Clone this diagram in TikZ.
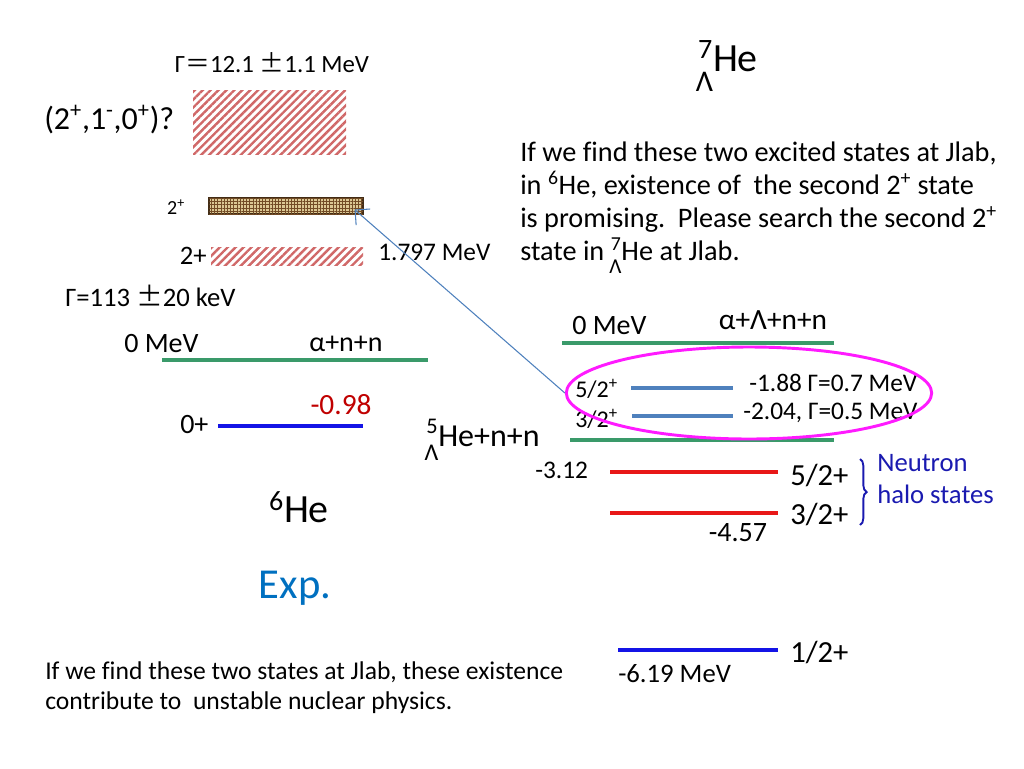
\documentclass[tikz,border=0pt]{standalone}
\usepackage{amsmath}
\usepackage{graphicx}
\usepackage{fontspec}
\setmainfont{Carlito}[Ligatures=NoCommon]
\newfontfamily\cjk{Noto Sans CJK SC}
\usetikzlibrary{arrows.meta,positioning,shapes.geometric,patterns,patterns.meta,decorations.pathreplacing}

% hypernucleus symbol: mass number on top, Lambda below
\newcommand\hyp[3][0.45em]{{\setbox0\hbox{\textsuperscript{#2}}\rlap{\hbox to\wd0{\hss\raisebox{-#1}{\scalebox{0.75}{Λ}}}}\box0}#3}
\newcommand\fsz[1]{\fontsize{#1}{1.2\dimexpr#1pt\relax}\selectfont}

\begin{document}
\begin{tikzpicture}[x=0.75pt,y=-0.75pt,
  lbl/.style={inner sep=0pt},
  lvl/.style={line width=2.6pt},
  hatchbox/.style={inner sep=0pt, pattern={Lines[angle=45,distance=4.2pt,line width=1.8pt]}, pattern color=hatch},
  texbox/.style={inner sep=0pt, draw=brown!35!black, line width=0.8pt, fill=boxtan, postaction={pattern={Hatch[distance=2.4pt,line width=0.45pt]}, pattern color=brown!60!black}}]
\definecolor{lvgreen}{HTML}{3A9A6A}
\definecolor{lvblue}{HTML}{1414E6}
\definecolor{lvsteel}{HTML}{4F81BD}
\definecolor{lvred}{HTML}{E81818}
\definecolor{hatch}{HTML}{D06868}
\definecolor{boxtan}{HTML}{DCC894}
\definecolor{selmag}{HTML}{FF1AFF}
\definecolor{expblue}{HTML}{0070C0}
\definecolor{haloblue}{HTML}{1A1AB0}
\definecolor{darkred}{HTML}{C00000}
\useasboundingbox (0,0) rectangle (1024,768);

% 6He side
\node[lbl, font=\fsz{18.6}] (gbig) at (272,63) {Γ{\cjk ＝}12.1 {\cjk ±}1.1 MeV};
\node[hatchbox, minimum width=114.75pt, minimum height=48pt] (broad) at (269.5,122) {};
\node[lbl, font=\fsz{24}, anchor=west] (jpi) at (44,120) {(2\textsuperscript{+},1\textsuperscript{-},0\textsuperscript{+})?};
\node[texbox, minimum width=115.5pt, minimum height=12pt] (tex) at (286,206) {};
\node[lbl, font=\fsz{15}] (tlab) at (176,207) {2\textsuperscript{+}};
\node[hatchbox, minimum width=114pt, minimum height=13.5pt] (first) at (287,256) {};
\node[lbl, font=\fsz{20}, anchor=east] (flab) at (207,256) {2+};
\node[lbl, font=\fsz{19}, anchor=west] (fen) at (378,252) {1.797 MeV};
\node[lbl, font=\fsz{20}, anchor=west] (gsmall) at (65,296) {Γ=113 {\cjk ±}20 keV};
\node[lbl, font=\fsz{21}, anchor=west] (zl) at (124,344) {0 MeV};
\node[lbl, font=\fsz{21}] (thrl) at (346,344) {α+n+n};
\node[lbl, font=\fsz{22}, text=darkred] (gsen) at (341,405) {-0.98};
\node[lbl, font=\fsz{21}, anchor=west] (gslab) at (180,425) {0+};
\node[lbl, font=\fsz{30}] (he6) at (299,507) {\textsuperscript{6}He};
\node[lbl, font=\fsz{32}, text=expblue] (exp) at (295,588) {Exp.};
\node[lbl, font=\fontsize{19.2}{22.5}\selectfont, anchor=north west, align=left] (note) at (45,661)
  {If we find these two states at Jlab, these existence\\contribute to\ \ unstable nuclear physics.};

% 7LHe side
\node[lbl, font=\fsz{30}] (he7) at (728,66) {\hyp[0.5em]{7}{He}};
\node[lbl, font=\fontsize{21.2}{24.75}\selectfont, anchor=north west, align=left] (ask) at (520,142)
  {If we find these two excited states at Jlab,\\in \textsuperscript{6}He, existence of\ \ the second 2\textsuperscript{+} state\\is promising.\ \ Please search the second 2\textsuperscript{+}\\state in \hyp{7}{He} at Jlab.};
\node[lbl, font=\fsz{21}, anchor=west] (zr) at (572,326) {0 MeV};
\node[lbl, font=\fsz{22}] (thrr) at (773,320) {α+Λ+n+n};
\node[lbl, font=\fsz{18}, anchor=west] (l52) at (575,389) {5/2\textsuperscript{+}};
\node[lbl, font=\fsz{19}, anchor=west] (e52) at (749,383) {-1.88 Γ=0.7 MeV};
\node[lbl, font=\fsz{18}, anchor=west] (l32) at (575,419) {3/2\textsuperscript{+}};
\node[lbl, font=\fsz{19}, anchor=west] (e32) at (743,413) {-2.04, Γ=0.5 MeV};
\node[lbl, font=\fsz{24}, anchor=west] (thr5) at (426,440) {\hyp{5}{He+n+n}};
\node[lbl, font=\fsz{19}, anchor=west] (e312) at (535,470) {-3.12};
\node[lbl, font=\fsz{23}, anchor=west] (h52) at (790,475) {5/2+};
\node[lbl, font=\fsz{23}, anchor=west] (h32) at (790,514) {3/2+};
\node[lbl, font=\fsz{21}] (e457) at (738,533) {-4.57};
\node[lbl, font=\fsz{20}, text=haloblue, anchor=west, align=left] (halo) at (877,479)
  {Neutron\\halo states};
\node[lbl, font=\fsz{23}, anchor=west] (h12) at (790,652) {1/2+};
\node[lbl, font=\fsz{20}, anchor=west] (e619) at (618,674) {-6.19 MeV};

% level lines
\foreach \xa/\xb/\y/\col in {162/428/360/lvgreen, 562/834/343/lvgreen, 570/834/440/lvgreen,
    218/363/426/lvblue, 631/733/388/lvsteel, 632/733/416/lvsteel,
    610/778/472/lvred, 610/778/513/lvred, 618/778/650/lvblue} {
  \draw[lvl, draw=\col] (\xa,\y) -- (\xb,\y);
}

% selected states and link to the 6He candidate
\node[ellipse, draw=selmag, line width=2.2pt, minimum width=274pt, minimum height=69pt] (sel) at (749,393) {};
\draw[lvsteel, line width=0.8pt, -{Straight Barb[length=8pt]}] (sel.west) -- ([shift={(-9,-5)}]tex.south east);

% halo brace
\coordinate (brtop) at (860,459);
\coordinate (brbot) at (860,525);
\draw[haloblue, line width=1.4pt, decorate, decoration={brace, amplitude=5pt}] (brtop) -- (brbot);
\end{tikzpicture}
\end{document}
